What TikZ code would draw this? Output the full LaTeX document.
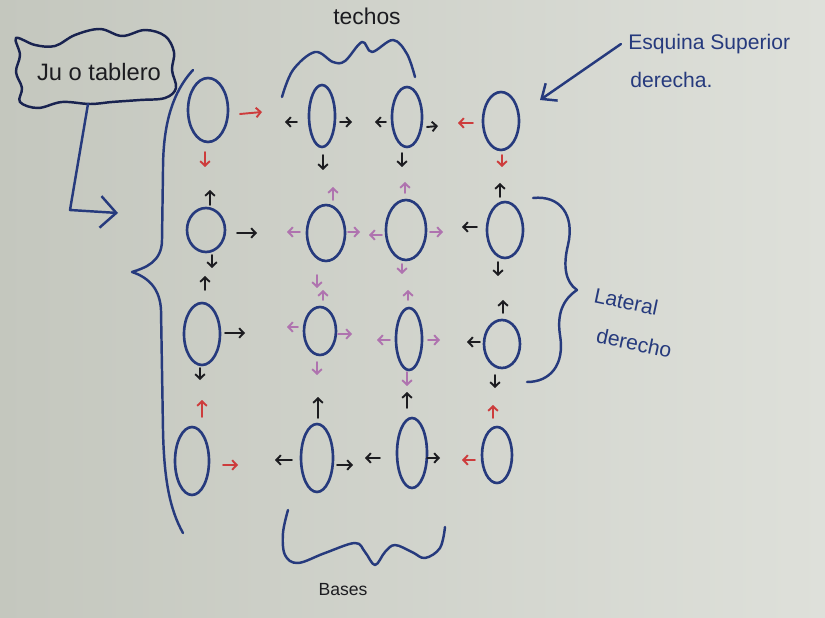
\documentclass[tikz,border=0pt]{standalone}
\usepackage{fontspec}
\setmainfont{Liberation Sans}
\usetikzlibrary{shapes.geometric,arrows.meta}
\definecolor{paperL}{RGB}{196,199,190}
\definecolor{paperR}{RGB}{222,224,218}
\definecolor{penblue}{RGB}{38,58,125}
\definecolor{inkblack}{RGB}{28,28,32}
\definecolor{inkred}{RGB}{205,60,60}
\definecolor{inkpurple}{RGB}{175,115,175}
\definecolor{inknavy}{RGB}{25,35,80}
\begin{document}
\begin{tikzpicture}[x=0.02cm,y=-0.02cm,
  egg/.style 2 args={ellipse, draw=penblue, line width=1.5pt, inner sep=0pt,
    minimum width={0.04cm*#1}, minimum height={0.04cm*#2}},
  mk/.style={line width=1.1pt, line cap=round, -{Straight Barb[length=2.6pt,width=5.5pt]}},
  ka/.style={mk, draw=inkblack},
  ra/.style={mk, draw=inkred},
  pa/.style={mk, draw=inkpurple},
  brace/.style={draw=penblue, line width=1.4pt, line cap=round, line join=round},
  lbl/.style={inner sep=0pt}
]
\shade[left color=paperL, right color=paperR] (0,0) rectangle (825,618);
\useasboundingbox (0,0) rectangle (825,618);

% ---- grid of ellipses
\node[egg={20}{32}] (e11) at (208,110) {};
\node[egg={13}{31}] (e12) at (322,116) {};
\node[egg={15}{30}] (e13) at (407,117) {};
\node[egg={18}{29}] (e14) at (501,121) {};
\node[egg={19}{22}] (e21) at (206,230) {};
\node[egg={19}{28}] (e22) at (326,233) {};
\node[egg={20}{30}] (e23) at (406,230) {};
\node[egg={18}{28}] (e24) at (505,230) {};
\node[egg={18}{31}] (e31) at (202,334) {};
\node[egg={16}{24}] (e32) at (320,331) {};
\node[egg={13}{31}] (e33) at (409,339) {};
\node[egg={18}{24}] (e34) at (502,344) {};
\node[egg={17}{34}] (e41) at (192,461) {};
\node[egg={16}{34}] (e42) at (317,458) {};
\node[egg={15}{35}] (e43) at (412,453) {};
\node[egg={15}{28}] (e44) at (497,455) {};

% ---- row 1 arrows
\draw[ra] (240,114) -- (262,112);
\draw[ra] (205,152) -- (205,167);
\draw[ka] (297,122) -- (285,122);
\draw[ka] (340,122) -- (352,122);
\draw[ka] (323,155) -- (323,170);
\draw[ka] (386,122) -- (375,122);
\draw[ka] (427,127) -- (438,126);
\draw[ka] (402,153) -- (402,167);
\draw[ra] (473,123) -- (458,123);
\draw[ra] (502,155) -- (502,167);
% ---- row 2 arrows
\draw[ka] (210,205) -- (210,190);
\draw[ka] (237,233) -- (257,233);
\draw[ka] (212,255) -- (212,268);
\draw[pa] (333,200) -- (333,187);
\draw[pa] (300,232) -- (287,232);
\draw[pa] (348,232) -- (360,232);
\draw[pa] (317,275) -- (317,288);
\draw[pa] (405,193) -- (405,182);
\draw[pa] (382,235) -- (369,235);
\draw[pa] (430,232) -- (443,232);
\draw[pa] (402,264) -- (402,274);
\draw[ka] (477,227) -- (462,227);
\draw[ka] (500,197) -- (500,183);
\draw[ka] (498,262) -- (498,276);
% ---- row 3 arrows
\draw[ka] (205,290) -- (205,276);
\draw[ka] (225,333) -- (245,333);
\draw[ka] (200,368) -- (200,380);
\draw[pa] (323,300) -- (323,290);
\draw[pa] (298,327) -- (287,327);
\draw[pa] (338,334) -- (352,334);
\draw[pa] (317,362) -- (317,375);
\draw[pa] (408,300) -- (408,290);
\draw[pa] (390,340) -- (377,340);
\draw[pa] (428,340) -- (440,340);
\draw[pa] (407,372) -- (407,386);
\draw[ka] (480,342) -- (467,342);
\draw[ka] (503,313) -- (503,300);
\draw[ka] (495,375) -- (495,388);
% ---- row 4 arrows
\draw[ra] (202,417) -- (202,400);
\draw[ra] (223,465) -- (238,465);
\draw[ka] (292,460) -- (275,460);
\draw[ka] (318,418) -- (318,397);
\draw[ka] (337,465) -- (353,465);
\draw[ka] (380,458) -- (365,458);
\draw[ka] (407,408) -- (407,392);
\draw[ka] (427,458) -- (440,458);
\draw[ra] (475,460) -- (462,460);
\draw[ra] (493,418) -- (493,405);

% ---- big left brace
\draw[brace] (193,70) .. controls (170,95) and (163,130) .. (163,170)
  -- (162,240) .. controls (162,262) and (145,268) .. (132,272)
  .. controls (150,278) and (160,290) .. (161,310)
  -- (163,430) .. controls (164,480) and (170,510) .. (183,533);

% ---- techos brace
\draw[brace] plot[smooth, tension=0.6] coordinates {(282,97) (293,70) (315,52) (333,62) (345,61) (362,42) (372,52) (393,40) (407,54) (415,77)};
\node[lbl, text=inkblack, font=\fontsize{13}{15}\selectfont] (techos) at (367,16) {techos};

% ---- bases brace
\draw[brace] plot[smooth, tension=0.6] coordinates {(288,510) (283,533) (285,555) (298,563) (325,553) (355,543) (365,552) (375,565) (385,552) (395,545) (412,552) (425,558) (440,548) (445,527)};
\node[lbl, text=inkblack, font=\fontsize{10}{12}\selectfont] (bases) at (343,590) {Bases};

% ---- right brace
\draw[brace] (533,198) .. controls (560,195) and (575,215) .. (568,245)
  .. controls (563,265) and (565,282) .. (577,290)
  .. controls (562,300) and (557,315) .. (560,335)
  .. controls (565,365) and (550,382) .. (527,382);
\node[lbl, text=penblue, rotate=-12, align=left, font=\fontsize{12}{22}\selectfont] (lateral) at (633,323) {Lateral\\\hspace{6pt}derecho};

% ---- Esquina superior derecha
\node[lbl, anchor=west, text=penblue, font=\fontsize{12}{14}\selectfont] (esq1) at (628,44) {Esquina Superior};
\node[lbl, anchor=west, text=penblue, font=\fontsize{12}{14}\selectfont] (esq2) at (630,80) {derecha.};
\coordinate (esqtip) at (540,100);
\draw[draw=penblue, line width=1.4pt, line cap=round, -{Straight Barb[length=7pt,width=12pt]}] ([xshift=-4pt]esq1.west) -- (esqtip);

% ---- cloud
\draw[draw=inknavy, line width=1.4pt] plot[smooth cycle, tension=0.6] coordinates {(16,38) (35,45) (55,46) (75,35) (100,29) (122,36) (145,30) (165,36) (174,52) (172,70) (176,88) (165,98) (140,100) (112,102) (90,104) (62,102) (38,108) (20,102) (22,88) (16,72) (20,55)};
\node[lbl, text=inkblack, font=\fontsize{13.5}{15}\selectfont] (cloudtxt) at (99,72) {Ju o tablero};
\coordinate (cloudbot) at (88,104);
\coordinate (bracein) at (118,213);
\draw[draw=penblue, line width=1.4pt, line cap=round, line join=round, -{Straight Barb[length=9pt,width=18pt]}] (cloudbot) -- (70,210) -- (bracein);
\end{tikzpicture}
\end{document}
